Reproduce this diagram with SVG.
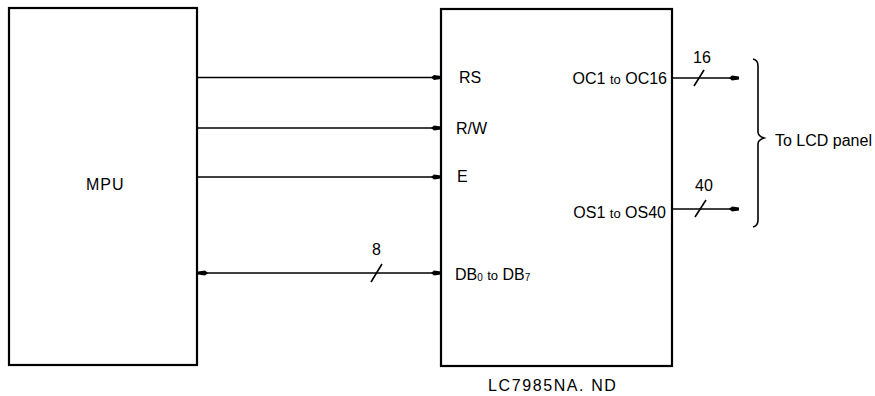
<svg xmlns="http://www.w3.org/2000/svg" width="875" height="396" viewBox="0 0 875 396">
<style>
.box{fill:#fff;stroke:#000;stroke-width:2.2}
.ln{stroke:#000;stroke-width:1.6;fill:none}
.t{font-family:"Liberation Sans",Arial,sans-serif;font-size:16px;fill:#000}
.sm{font-size:13px}
</style>
<defs>
<marker id="ah" viewBox="0 0 10 6" refX="10" refY="3" markerWidth="10" markerHeight="6" markerUnits="userSpaceOnUse" orient="auto-start-reverse">
<path d="M0,3 L3,0.5 L10,1.5 L10,4.5 L3,5.5 Z" fill="#000"/>
</marker>
</defs>
<rect width="875" height="396" fill="#fff"/>
<g id="mpu">
<rect class="box" x="9" y="8" width="188" height="357"/>
<text class="t" x="86" y="190" letter-spacing="1">MPU</text>
</g>
<g id="lc7985">
<rect class="box" x="441" y="9" width="231" height="357"/>
<text class="t" x="459" y="83">RS</text>
<text class="t" x="456" y="134">R/W</text>
<text class="t" x="457" y="182">E</text>
<text class="t" x="455" y="280">DB<tspan font-size="10" dy="1">0</tspan><tspan dy="-1"> </tspan><tspan class="sm">to</tspan> DB<tspan font-size="10" dy="1">7</tspan></text>
<text class="t" x="667" y="84" text-anchor="end">OC1 <tspan class="sm">to</tspan> OC16</text>
<text class="t" x="666" y="218" text-anchor="end">OS1 <tspan class="sm">to</tspan> OS40</text>
<text class="t" x="488" y="391" font-size="17" letter-spacing="1.6">LC7985NA. ND</text>
</g>
<g id="lcd">
<path class="ln" d="M753,59 Q758,60 758,66 L758,132 Q758,136 764,138 Q758,140 758,144 L758,220 Q758,226 753,227"/>
<text class="t" x="775" y="146">To LCD panel</text>
</g>
<g id="connectors">
<line class="ln" x1="197" y1="77.5" x2="441" y2="77.5" marker-end="url(#ah)"/>
<line class="ln" x1="197" y1="128" x2="441" y2="128" marker-end="url(#ah)"/>
<line class="ln" x1="197" y1="177" x2="441" y2="177" marker-end="url(#ah)"/>
<line class="ln" x1="198" y1="273" x2="441" y2="273" marker-start="url(#ah)" marker-end="url(#ah)"/>
<line class="ln" x1="371" y1="282" x2="382" y2="264"/>
<text class="t" x="372" y="255" font-size="15">8</text>
<line class="ln" x1="672" y1="78" x2="739" y2="78" marker-end="url(#ah)"/>
<line class="ln" x1="694" y1="86" x2="704" y2="70"/>
<text class="t" x="693" y="63" font-size="15">16</text>
<line class="ln" x1="672" y1="209" x2="739" y2="209" marker-end="url(#ah)"/>
<line class="ln" x1="695" y1="217" x2="706" y2="200"/>
<text class="t" x="695" y="191" font-size="15">40</text>
</g>
</svg>
